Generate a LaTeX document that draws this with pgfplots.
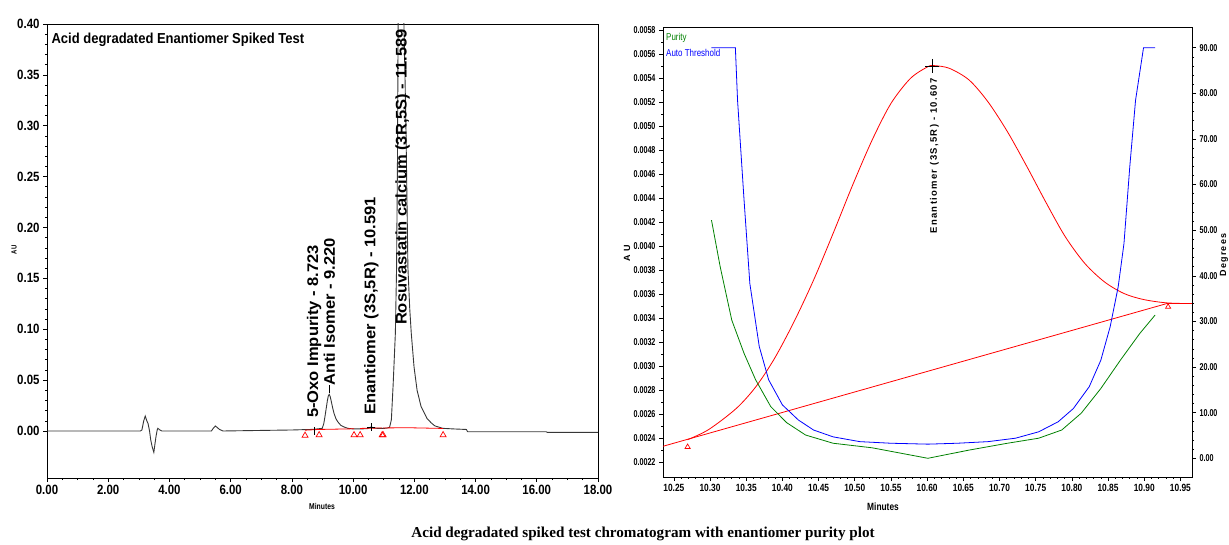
\documentclass[border=0pt]{standalone}
\usepackage{fontspec}
\setmainfont{Liberation Sans}
\newfontfamily\tickL[FakeStretch=0.85]{Liberation Sans}
\newfontfamily\titleF[FakeStretch=0.9]{Liberation Sans}
\newfontfamily\condR[FakeStretch=0.8]{Liberation Sans}
\newfontfamily\condT[FakeStretch=0.72]{Liberation Sans}
\newfontfamily\peakfont[FakeStretch=1.07]{Liberation Sans}
\newfontfamily\serifB{Liberation Serif}
\newfontfamily\spaced[LetterSpace=14]{Liberation Sans}
\usepackage{pgfplots}
\pgfplotsset{compat=1.18}
\definecolor{chromgray}{RGB}{55,55,55}
\definecolor{pgreen}{RGB}{0,128,0}
\begin{document}
\begin{tikzpicture}
% ---------------- Left panel ----------------
\begin{axis}[
  at={(47bp,67bp)}, anchor=south west, scale only axis,
  width=551bp, height=454bp,
  xmin=0, xmax=18, ymin=-0.0462, ymax=0.40,
  xtick={0,2,4,6,8,10,12,14,16,18},
  ytick={0,0.05,0.10,0.15,0.20,0.25,0.30,0.35,0.40},
  minor x tick num=3, minor y tick num=4,
  tick align=outside, xtick pos=bottom, ytick pos=left,
  major tick length=4bp, minor tick length=2bp,
  tick style={black, line width=0.6bp},
  axis line style={black, line width=0.8bp},
  clip mode=individual,
  scaled ticks=false,
  /pgf/number format/assume math mode=true,
  xticklabel style={font=\fontsize{13.5}{14}\tickL\bfseries},
  yticklabel style={font=\fontsize{13.5}{14}\tickL\bfseries},
  x tick label style={/pgf/number format/.cd, fixed, fixed zerofill, precision=2},
  y tick label style={/pgf/number format/.cd, fixed, fixed zerofill, precision=2},
]
\addplot[chromgray, line width=0.9bp] coordinates {
(0,0) (3.05,0) (3.10,0.001) (3.16,0.010) (3.21,0.0147) (3.26,0.010) (3.30,0.0075)
(3.35,0.000) (3.39,-0.009) (3.44,-0.016) (3.49,-0.021) (3.53,-0.012) (3.56,-0.0056)
(3.60,0.001) (3.62,0.0026) (3.69,0.001) (3.75,0)
(5.37,0) (5.44,0.003) (5.50,0.0049) (5.56,0.0035) (5.63,0.0016) (5.75,0)
(8.02,0.001) (8.70,0.0016) (8.99,0.0026) (9.04,0.007) (9.08,0.014) (9.12,0.022)
(9.16,0.030) (9.19,0.0345) (9.22,0.036) (9.25,0.034) (9.28,0.030) (9.33,0.023)
(9.38,0.017) (9.44,0.012) (9.50,0.009) (9.60,0.0055) (9.70,0.004) (9.83,0.0026)
(10.0,0.002) (10.45,0.0022) (10.52,0.003) (10.59,0.004) (10.68,0.003) (10.80,0.0025)
(11.0,0.0025) (11.12,0.003) (11.19,0.0036) (11.25,0.011) (11.31,0.047) (11.38,0.096)
(11.42,0.161) (11.45,0.27) (11.47,0.40) (11.52,0.60) (11.589,0.66) (11.63,0.58)
(11.66,0.40) (11.70,0.34) (11.73,0.29) (11.79,0.161) (11.85,0.120) (11.90,0.096)
(11.99,0.063) (12.09,0.040) (12.22,0.024) (12.41,0.0125) (12.55,0.008) (12.67,0.005)
(12.93,0.0026) (13.30,0.002) (13.70,0.0015) (13.74,-0.0007) (16.30,-0.0007)
(16.34,-0.0013) (18,-0.0013)
};
\addplot[red, line width=0.8bp] coordinates {(8.43,0.0008) (8.89,0.0015) (9.75,0.002) (10.03,0.0022)};
\addplot[red, line width=0.8bp] coordinates {(10.23,0.0025) (10.95,0.0030)};
\addplot[red, line width=0.8bp] coordinates {(10.98,0.0030) (11.80,0.0032) (12.94,0.0025)};
\addplot[only marks, mark=triangle, red, mark size=3.5bp, line width=0.7bp] coordinates {
(8.43,-0.0045) (8.89,-0.004) (10.03,-0.004) (10.23,-0.004) (10.95,-0.004) (10.98,-0.004) (12.94,-0.004)};
\addplot[only marks, mark=|, black, mark size=4bp, line width=0.7bp] coordinates {(8.723,0.0) (9.22,0.041)};
\addplot[only marks, mark=+, black, mark size=4bp, line width=0.7bp] coordinates {(10.591,0.0035)};
\node[rotate=90, anchor=west, inner sep=0pt, font=\fontsize{15.5}{16}\peakfont\bfseries] at (axis cs:8.723,0.0128) {5-Oxo Impurity - 8.723};
\node[rotate=90, anchor=west, inner sep=0pt, font=\fontsize{15.5}{16}\peakfont\bfseries] at (axis cs:9.22,0.045) {Anti Isomer - 9.220};
\node[rotate=90, anchor=west, inner sep=0pt, font=\fontsize{15.5}{16}\peakfont\bfseries] at (axis cs:10.60,0.0157) {Enantiomer (3S,5R) - 10.591};
\node[rotate=90, anchor=west, inner sep=0pt, font=\fontsize{15.5}{16}\peakfont\bfseries] at (axis cs:11.62,0.104) {Rosuvastatin calcium (3R,5S) - 11.589};
\node[anchor=north west, inner sep=0pt, font=\fontsize{14.5}{15}\titleF\bfseries] at (rel axis cs:0.008,0.98) {Acid degradated Enantiomer Spiked Test};
\end{axis}
% ---------------- Right panel ----------------
\begin{axis}[
  at={(663bp,68bp)}, anchor=south west, scale only axis,
  width=529bp, height=450bp,
  xmin=10.235, xmax=10.966, ymin=0.002075, ymax=0.005825,
  xtick={10.25,10.30,10.35,10.40,10.45,10.50,10.55,10.60,10.65,10.70,10.75,10.80,10.85,10.90,10.95},
  ytick={0.0022,0.0024,0.0026,0.0028,0.0030,0.0032,0.0034,0.0036,0.0038,0.0040,0.0042,0.0044,0.0046,0.0048,0.0050,0.0052,0.0054,0.0056,0.0058},
  minor x tick num=4, minor y tick num=1,
  tick align=outside, xtick pos=bottom, ytick pos=left,
  major tick length=4bp, minor tick length=2bp,
  tick style={black, line width=0.6bp},
  axis line style={black, line width=0.8bp},
  clip mode=individual,
  scaled ticks=false,
  /pgf/number format/assume math mode=true,
  xticklabel style={font=\fontsize{10.5}{11}\condR\bfseries},
  yticklabel style={font=\fontsize{10}{11}\condT\bfseries},
  x tick label style={/pgf/number format/.cd, fixed, fixed zerofill, precision=2},
  y tick label style={/pgf/number format/.cd, fixed, fixed zerofill, precision=4},
]
\addplot[red, line width=0.8bp] coordinates {(10.235,0.002331) (10.931,0.003520) (10.966,0.003520)};
\addplot[red, line width=0.8bp, smooth] coordinates {
(10.269,0.002386) (10.298,0.002470) (10.336,0.002645) (10.363,0.002825) (10.389,0.003062)
(10.416,0.003368) (10.443,0.003715) (10.470,0.004104) (10.497,0.004507) (10.524,0.004883)
(10.550,0.005188) (10.577,0.005397) (10.601,0.005494) (10.610,0.005503) (10.631,0.005480)
(10.658,0.005383) (10.684,0.005202) (10.711,0.004952) (10.738,0.004660) (10.765,0.004354)
(10.791,0.004076) (10.818,0.003854) (10.845,0.003701) (10.872,0.003604) (10.899,0.003554)
(10.931,0.003526) (10.966,0.003520)};
\addplot[only marks, mark=triangle, red, mark size=3bp, line width=0.7bp] coordinates {(10.269,0.002325) (10.933,0.003493)};
\addplot[only marks, mark=+, black, mark size=7bp, line width=0.7bp] coordinates {(10.607,0.00550)};
\node[rotate=90, anchor=east, inner sep=0pt, font=\fontsize{9.5}{10}\spaced\bfseries] at (axis cs:10.610,0.00540) {Enantiomer (3S,5R) - 10.607};
\end{axis}
\begin{axis}[
  at={(663bp,68bp)}, anchor=south west, scale only axis,
  width=529bp, height=450bp,
  xmin=10.235, xmax=10.966, ymin=-4.10, ymax=94.54,
  axis x line=none, axis y line*=right,
  ytick={0,10,20,30,40,50,60,70,80,90},
  minor y tick num=4,
  tick align=outside,
  major tick length=4bp, minor tick length=2bp,
  tick style={black, line width=0.6bp},
  axis line style={black, line width=0.8bp},
  clip mode=individual,
  /pgf/number format/assume math mode=true,
  yticklabel style={font=\fontsize{10}{11}\condT\bfseries, /pgf/number format/.cd, fixed, fixed zerofill, precision=2},
]
\addplot[pgreen, line width=0.8bp] coordinates {
(10.302,52.2) (10.314,42.0) (10.330,30.3) (10.347,23.0) (10.363,17.2) (10.384,11.3)
(10.406,7.8) (10.432,5.1) (10.470,3.3) (10.524,2.3) (10.601,0.0) (10.658,1.8)
(10.711,3.3) (10.754,4.4) (10.786,6.2) (10.813,9.9) (10.840,15.3) (10.867,21.5)
(10.894,27.4) (10.915,31.4)};
\addplot[blue, line width=0.8bp] coordinates {
(10.302,90) (10.335,90) (10.338,78.5) (10.347,56.6) (10.355,38.3) (10.368,24.5)
(10.381,17.2) (10.400,11.7) (10.422,8.4) (10.443,6.2) (10.470,4.7) (10.507,3.65)
(10.550,3.3) (10.601,3.1) (10.642,3.3) (10.684,3.65) (10.722,4.4) (10.754,5.8)
(10.781,8.0) (10.802,10.9) (10.824,15.7) (10.840,21.5) (10.853,28.9) (10.864,37.6)
(10.872,47.1) (10.880,63.9) (10.888,78.5) (10.899,90) (10.915,90)};
\end{axis}
% ---------------- Labels ----------------
\node[font=\fontsize{8.5}{9}\condR\bfseries] at (322bp,39bp) {Minutes};
\node[rotate=90, font=\fontsize{7.5}{8}\condR\bfseries] at (14bp,295bp) {AU};
\node[font=\fontsize{10.5}{11}\condR\bfseries] at (883bp,38bp) {Minutes};
\node[rotate=90, font=\fontsize{9}{10}\spaced\bfseries] at (627bp,292bp) {A U};
\node[rotate=90, font=\fontsize{9}{10}\spaced\bfseries] at (1224bp,290bp) {Degrees};
\node[anchor=west, inner sep=0pt, text=pgreen, font=\fontsize{10}{11}\condR] at (666bp,507bp) {Purity};
\node[anchor=west, inner sep=0pt, text=blue, font=\fontsize{10}{11}\condR] at (666bp,492bp) {Auto Threshold};
\node[font=\fontsize{15.2}{17}\serifB\bfseries] at (643bp,11bp) {Acid degradated spiked test chromatogram with enantiomer purity plot};
\pgfresetboundingbox
\path[use as bounding box] (0,0) rectangle (1229bp,545bp);
\end{tikzpicture}
\end{document}
